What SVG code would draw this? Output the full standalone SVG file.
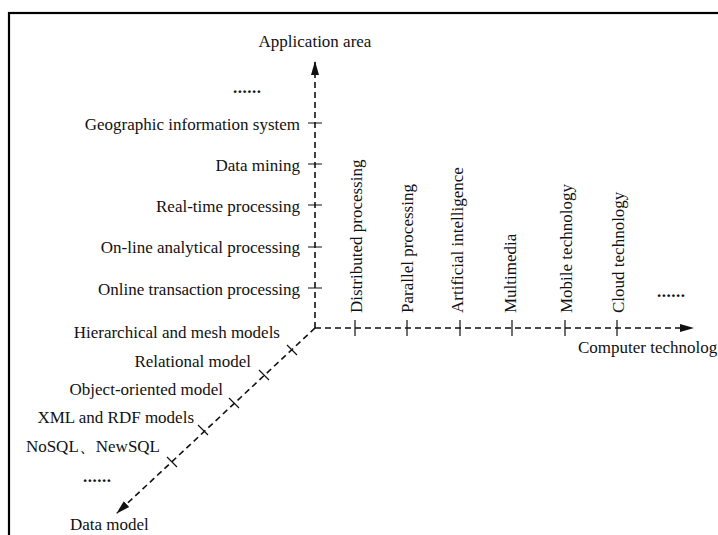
<svg xmlns="http://www.w3.org/2000/svg" width="718" height="535" viewBox="0 0 718 535">
<style>
text{font-family:"Liberation Serif","Times New Roman",serif;font-size:17px;fill:#111}
.ax{stroke:#111;stroke-width:1.6;fill:none;stroke-dasharray:6 4}
.tk{stroke:#111;stroke-width:1.2;fill:none}
.r{text-anchor:end}
.m{text-anchor:middle}
.dots{font-weight:bold;letter-spacing:0.5px}
</style>
<defs>
<marker id="ah" markerWidth="14" markerHeight="10" refX="13" refY="5" orient="auto" markerUnits="userSpaceOnUse">
<path d="M0,1 L14,5 L0,9 Z" fill="#111"/>
</marker>
</defs>
<rect x="9" y="13" width="720" height="540" fill="#fff" stroke="#000" stroke-width="2.2"/>
<g id="connectors">
<line class="ax" x1="315" y1="328" x2="315" y2="62" marker-end="url(#ah)"/>
<line class="ax" x1="315" y1="328" x2="693" y2="328" marker-end="url(#ah)"/>
<line class="ax" x1="315" y1="328" x2="117" y2="513" marker-end="url(#ah)"/>
</g>
<g id="application-axis">
<text class="m" x="315" y="47">Application area</text>
<text class="dots" x="233" y="93">......</text>
<path class="tk" d="M308,123H322M308,164H322M308,205H322M308,247H322M308,288H322"/>
<text class="r" x="300" y="130">Geographic information system</text>
<text class="r" x="300" y="171">Data mining</text>
<text class="r" x="300" y="212">Real-time processing</text>
<text class="r" x="300" y="253">On-line analytical processing</text>
<text class="r" x="300" y="295">Online transaction processing</text>
</g>
<g id="technology-axis">
<path class="tk" d="M355,320V336M407,320V336M460,320V336M512,320V336M565,320V336M617,320V336"/>
<text transform="translate(362,313) rotate(-90)">Distributed processing</text>
<text transform="translate(413,313) rotate(-90)">Parallel processing</text>
<text transform="translate(463,313) rotate(-90)">Artificial intelligence</text>
<text transform="translate(516,313) rotate(-90)">Multimedia</text>
<text transform="translate(572,313) rotate(-90)">Mobile technology</text>
<text transform="translate(624,313) rotate(-90)">Cloud technology</text>
<text class="dots" x="657" y="297">......</text>
<text x="578" y="353">Computer technolog</text>
</g>
<g id="data-model-axis">
<path class="tk" d="M287,345L297,355M259,370L269,380M229,398L239,408M198,425L208,435M167,457L177,467"/>
<text class="r" x="280" y="338">Hierarchical and mesh models</text>
<text class="r" x="251" y="367">Relational model</text>
<text class="r" x="223" y="395">Object-oriented model</text>
<text class="r" x="194" y="423">XML and RDF models</text>
<text class="r" x="160" y="452">NoSQL、NewSQL</text>
<text class="dots" x="83" y="482">......</text>
<text x="70" y="530">Data model</text>
</g>
</svg>
